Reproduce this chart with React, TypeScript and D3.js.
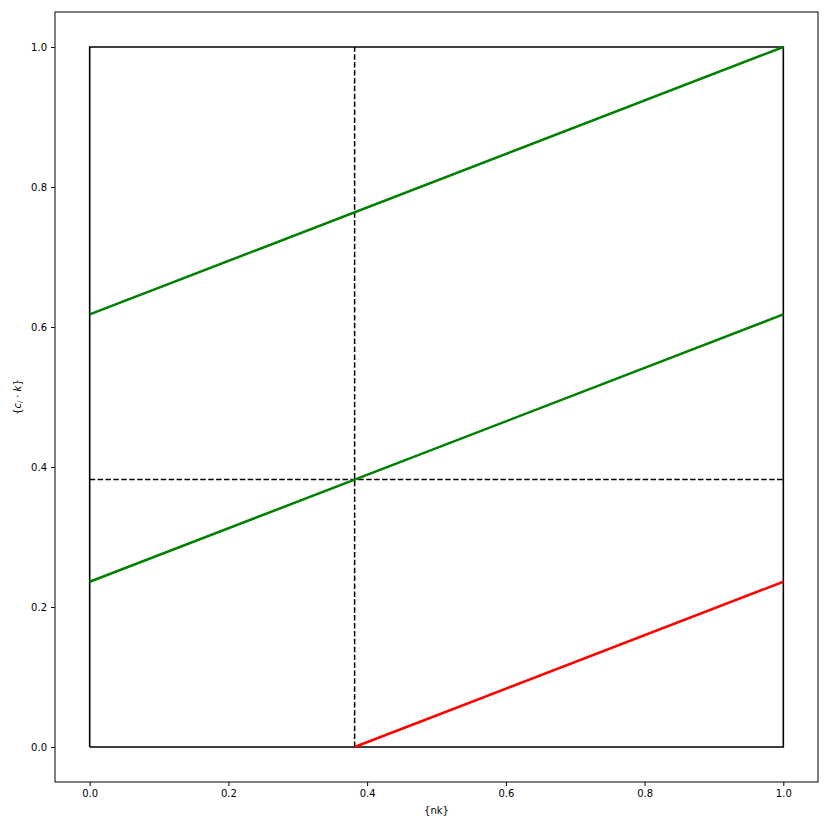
import React from "react";
import * as d3 from "d3";

// golden ratio pieces
const phiA = 0.381966;
const phiB = 0.618034;
const phiC = 0.236068;

const greenLines = [
  [[0, phiB], [1, 1]],
  [[0, phiC], [1, phiB]],
];
const redLine = [[phiA, 0], [1, phiC]];
const boxPoints = [[0, 0], [1, 0], [1, 1], [0, 1], [0, 0]];
const dashedV = [[phiA, 0], [phiA, 1]];
const dashedH = [[0, phiA], [1, phiA]];
const tickValues = [0, 0.2, 0.4, 0.6, 0.8, 1.0];

export default function App() {
  const ref = React.useRef<SVGSVGElement>(null);

  React.useEffect(() => {
    drawChart();
  }, []);

  function drawChart() {
    const width = 830;
    const height = 830;
    const margin = { top: 12, bottom: 48, left: 55, right: 12 };

    const svg = d3.select(ref.current);
    svg.selectAll("*").remove();

    const x = d3
      .scaleLinear()
      .domain([-0.05, 1.05])
      .range([margin.left, width - margin.right]);
    const y = d3
      .scaleLinear()
      .domain([-0.05, 1.05])
      .range([height - margin.bottom, margin.top]);

    const line = d3
      .line<number[]>()
      .x((d) => x(d[0]))
      .y((d) => y(d[1]));

    svg.append("rect")
      .attr("width", width)
      .attr("height", height)
      .attr("fill", "#fff");

    // frame
    svg.append("rect")
      .attr("x", x(-0.05))
      .attr("y", y(1.05))
      .attr("width", x(1.05) - x(-0.05))
      .attr("height", y(-0.05) - y(1.05))
      .attr("fill", "none")
      .attr("stroke", "#000")
      .attr("stroke-width", 1);

    const xAxis = d3
      .axisBottom(x)
      .tickValues(tickValues)
      .tickFormat(d3.format(".1f"))
      .tickSize(4)
      .tickPadding(4);
    const yAxis = d3
      .axisLeft(y)
      .tickValues(tickValues)
      .tickFormat(d3.format(".1f"))
      .tickSize(4)
      .tickPadding(4);

    const gx = svg.append("g")
      .attr("transform", `translate(0,${y(-0.05)})`)
      .call(xAxis);
    const gy = svg.append("g")
      .attr("transform", `translate(${x(-0.05)},0)`)
      .call(yAxis);
    [gx, gy].forEach((g) => {
      g.select(".domain").remove();
      g.selectAll("text")
        .attr("font-family", "DejaVu Sans")
        .attr("font-size", 10)
        .attr("fill", "#000");
    });

    // dashed guides
    [dashedV, dashedH].forEach((pts) => {
      svg.append("path")
        .attr("d", line(pts))
        .attr("fill", "none")
        .attr("stroke", "#000")
        .attr("stroke-width", 1.5)
        .attr("stroke-dasharray", "5.5,2.4");
    });

    // unit square
    svg.append("path")
      .attr("d", line(boxPoints))
      .attr("fill", "none")
      .attr("stroke", "#000")
      .attr("stroke-width", 1.6);

    greenLines.forEach((pts) => {
      svg.append("path")
        .attr("d", line(pts))
        .attr("fill", "none")
        .attr("stroke", "#008000")
        .attr("stroke-width", 2.5);
    });

    svg.append("path")
      .attr("d", line(redLine))
      .attr("fill", "none")
      .attr("stroke", "#ff0000")
      .attr("stroke-width", 2.5);

    // axis labels
    svg.append("text")
      .attr("x", (x(-0.05) + x(1.05)) / 2)
      .attr("y", 814)
      .attr("text-anchor", "middle")
      .attr("font-family", "DejaVu Sans")
      .attr("font-size", 10)
      .text("{nk}");

    const yl = svg.append("text")
      .attr("transform", `translate(21,${(y(-0.05) + y(1.05)) / 2}) rotate(-90)`)
      .attr("text-anchor", "middle")
      .attr("font-family", "DejaVu Sans")
      .attr("font-size", 10);
    yl.append("tspan").text("{");
    yl.append("tspan").attr("font-style", "italic").text("c");
    yl.append("tspan")
      .attr("font-style", "italic")
      .attr("font-size", 7)
      .attr("dy", 2)
      .text("i");
    yl.append("tspan").attr("dy", -2).text(" \u00b7 ");
    yl.append("tspan").attr("font-style", "italic").text("k");
    yl.append("tspan").text("}");
  }

  return (
    <svg
      ref={ref}
      width={830}
      height={830}
      style={{ position: "absolute", left: 0, top: 0 }}
    />
  );
}
